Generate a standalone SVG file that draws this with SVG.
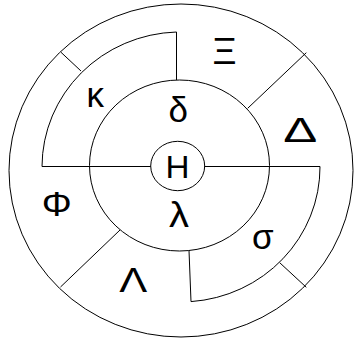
<svg xmlns="http://www.w3.org/2000/svg" width="354" height="339" viewBox="0 0 354 339">
<style>
.ln{fill:none;stroke:#000;stroke-width:1}
.t{font-family:"Liberation Sans","DejaVu Sans",sans-serif;fill:#000;text-anchor:middle}
.big{font-size:35px}
.sm{font-size:31px}
</style>
<rect width="354" height="339" fill="#fff"/>
<g id="connectors">
<ellipse class="ln" cx="181" cy="170.5" rx="172" ry="166.5"/>
<ellipse class="ln" cx="179.5" cy="165.5" rx="90" ry="85.5"/>
<path class="ln" d="M42,166.5 A139,135 0 0 1 176.5,32 L176.5,80"/>
<path class="ln" d="M320,166.5 A139,135 0 0 1 191,301.6 L189,250.5"/>
<path class="ln" d="M42,166.5 H150.7 M204.7,166.5 H320"/>
<path class="ln" d="M247.7,108.3 L306.3,52.7"/>
<path class="ln" d="M81,71 L61,52.3"/>
<path class="ln" d="M120,230 L60.5,287"/>
<path class="ln" d="M279.7,262.7 L306.3,287.3"/>
</g>
<g id="H"><ellipse class="ln" cx="177.7" cy="166" rx="27" ry="24.7"/><text class="t sm" x="177.5" y="177.7" textLength="24" lengthAdjust="spacingAndGlyphs">H</text></g>
<g id="delta"><text class="t big" x="178.3" y="121.7">δ</text></g>
<g id="lambda"><text class="t big" x="179" y="226.7" textLength="20" lengthAdjust="spacingAndGlyphs">λ</text></g>
<g id="kappa"><text class="t big" x="95.3" y="106.7">κ</text></g>
<g id="sigma"><text class="t big" x="262.8" y="249.3">σ</text></g>
<g id="Xi"><text class="t" style="font-size:37px" x="224.5" y="64">Ξ</text></g>
<g id="Delta"><text class="t big" x="300.3" y="141.7" textLength="34" lengthAdjust="spacingAndGlyphs">Δ</text></g>
<g id="Phi"><text class="t big" x="56.7" y="216" textLength="30" lengthAdjust="spacingAndGlyphs">Φ</text></g>
<g id="Lambda"><text class="t big" x="133.3" y="291.7" textLength="28" lengthAdjust="spacingAndGlyphs">Λ</text></g>
</svg>
